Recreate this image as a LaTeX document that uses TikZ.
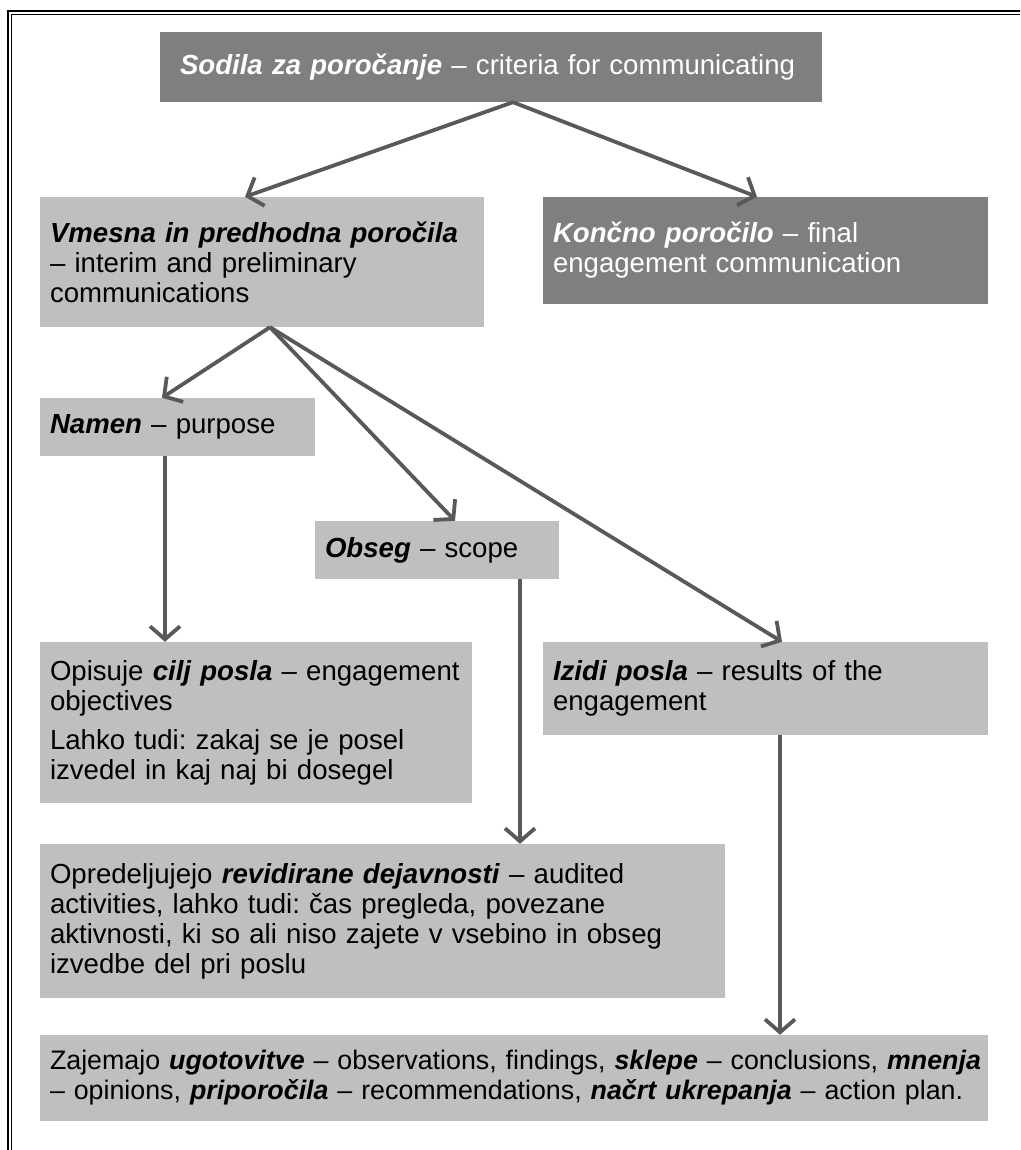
\documentclass[tikz,border=0pt]{standalone}
\usepackage{fontspec}
\setmainfont{Liberation Sans}
\usetikzlibrary{arrows.meta,calc}
\definecolor{darkbox}{HTML}{7F7F7F}
\definecolor{lightbox}{HTML}{BFBFBF}
\definecolor{arrowc}{HTML}{595959}
\newcommand{\bi}[1]{\textbf{\textit{#1}}}
\newcommand{\oneline}[1]{\mbox{#1}}
\begin{document}
\begin{tikzpicture}[x=1pt,y=-1pt,
  boxbase/.style={rectangle, inner xsep=10pt, inner ysep=0pt, align=left,
    font=\fontsize{27.6}{30}\selectfont\frenchspacing},
  lbox/.style={boxbase, fill=lightbox, text=black},
  dbox/.style={boxbase, fill=darkbox, text=white},
  conn/.style={draw=arrowc, line width=3.8pt, -{Straight Barb[length=13pt,width=30pt]}}
]
\clip (0,0) rectangle (1020,1150);
\useasboundingbox (0,0) rectangle (1020,1150);
% frame
\draw[line width=2.2pt] (8,11) rectangle (1040,1170);
\draw[line width=1.1pt] (11.8,14.8) rectangle (1036,1166);

\node[dbox, inner xsep=20pt, minimum width=662pt, minimum height=70pt, text width=622pt] (top) at (491,67)
  {\oneline{\bi{Sodila za poročanje} – criteria for communicating}};
\node[lbox, minimum width=444pt, minimum height=130pt, text width=424pt] (vmes) at (262,262)
  {\oneline{\bi{Vmesna in predhodna poročila}}\\\oneline{– interim and preliminary}\\\oneline{communications}};
\node[dbox, minimum width=445pt, minimum height=107pt, text width=425pt] (konc) at (765.5,250.5)
  {\oneline{\bi{Končno poročilo} – final}\\\oneline{engagement communication}};
\node[lbox, minimum width=275pt, minimum height=58pt, text width=255pt] (namen) at (177.5,427)
  {\oneline{\bi{Namen} – purpose}};
\node[lbox, minimum width=244pt, minimum height=58pt, text width=224pt] (obseg) at (437,550)
  {\oneline{\bi{Obseg} – scope}};
\node[lbox, minimum width=432pt, minimum height=161pt, text width=412pt] (opis) at (256,722.5)
  {\oneline{Opisuje \bi{cilj posla} – engagement}\\\oneline{objectives}\\[9pt]\oneline{Lahko tudi: zakaj se je posel}\\\oneline{izvedel in kaj naj bi dosegel}};
\node[lbox, minimum width=445pt, minimum height=93pt, text width=425pt] (izidi) at (765.5,688.5)
  {\oneline{\bi{Izidi posla} – results of the}\\\oneline{engagement}};
\node[lbox, minimum width=685pt, minimum height=154pt, text width=665pt] (opred) at (382.5,921)
  {\oneline{Opredeljujejo \bi{revidirane dejavnosti} – audited}\\\oneline{activities, lahko tudi: čas pregleda, povezane}\\\oneline{aktivnosti, ki so ali niso zajete v vsebino in obseg}\\\oneline{izvedbe del pri poslu}};
\node[lbox, minimum width=948pt, minimum height=86pt, text width=928pt,
      font=\fontsize{26.8}{30}\selectfont\frenchspacing] (zajem) at (514,1078)
  {\oneline{Zajemajo \bi{ugotovitve} – observations, findings, \bi{sklepe} – conclusions, \bi{mnenja}}\\\oneline{– opinions, \bi{priporočila} – recommendations, \bi{načrt ukrepanja} – action plan.}};

% connectors
\coordinate (topout) at (513,0 |- top.south);
\coordinate (vmesout) at (270,0 |- vmes.south);
\draw[conn] (topout) -- (245,0 |- vmes.north);
\draw[conn] (topout) -- (757,0 |- konc.north);
\draw[conn] (vmesout) -- (162,0 |- namen.north);
\draw[conn] (vmesout) -- (455,0 |- obseg.north);
\draw[conn] (vmesout) -- (782,0 |- izidi.north);
\draw[conn] (165,0 |- namen.south) -- (165,0 |- opis.north);
\draw[conn] (520,0 |- obseg.south) -- (520,0 |- opred.north);
\draw[conn] (780,0 |- izidi.south) -- (780,0 |- zajem.north);
\end{tikzpicture}
\end{document}
